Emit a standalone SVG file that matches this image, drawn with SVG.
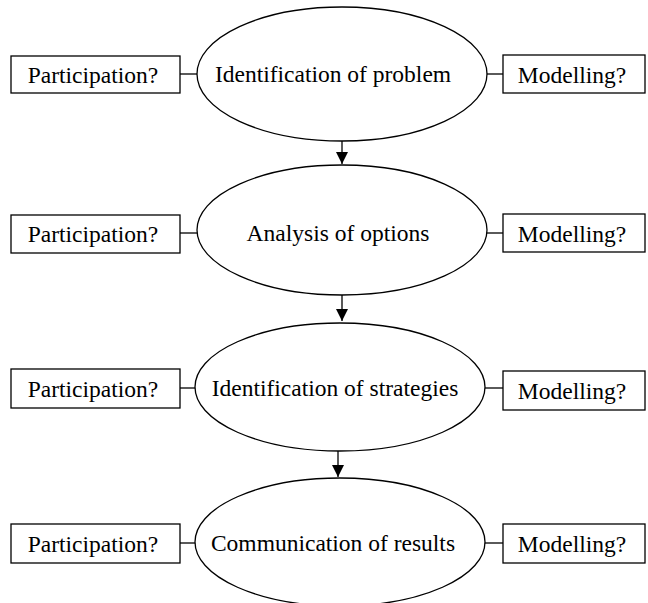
<svg xmlns="http://www.w3.org/2000/svg" width="648" height="603" viewBox="0 0 648 603">
<defs>
<style>
.box{fill:#fff;stroke:#000;stroke-width:1.3}
.ell{fill:#fff;stroke:#000;stroke-width:1.3}
.ln{stroke:#000;stroke-width:1.3;fill:none}
text{font-family:"Liberation Serif","Times New Roman",serif;font-size:23.5px;fill:#000;text-anchor:middle;dominant-baseline:central}
</style>
<marker id="ah" viewBox="0 0 12 12" refX="12" refY="6" markerWidth="12" markerHeight="12" markerUnits="userSpaceOnUse" orient="auto">
<path d="M0,0 L12,6 L0,12 Z" fill="#000"/>
</marker>
</defs>
<rect width="648" height="603" fill="#fff"/>
<g id="connectors">
<line class="ln" x1="180" y1="74" x2="197" y2="74"/>
<line class="ln" x1="486" y1="74" x2="503" y2="74"/>
<line class="ln" x1="342" y1="140" x2="342" y2="164" marker-end="url(#ah)"/>
<line class="ln" x1="180" y1="233" x2="197" y2="233"/>
<line class="ln" x1="486" y1="233" x2="503" y2="233"/>
<line class="ln" x1="342" y1="294" x2="342" y2="321" marker-end="url(#ah)"/>
<line class="ln" x1="180" y1="388" x2="197" y2="388"/>
<line class="ln" x1="485" y1="388" x2="503" y2="388"/>
<line class="ln" x1="338" y1="451" x2="338" y2="477" marker-end="url(#ah)"/>
<line class="ln" x1="180" y1="543" x2="197" y2="543"/>
<line class="ln" x1="484" y1="543" x2="503" y2="543"/>
</g>
<g id="n1"><ellipse class="ell" cx="342" cy="74" rx="145" ry="67"/><text x="333" y="74">Identification of problem</text></g>
<g id="p1"><rect class="box" x="11" y="56" width="169" height="37"/><text x="93" y="75">Participation?</text></g>
<g id="m1"><rect class="box" x="503" y="55" width="142" height="38"/><text x="572" y="75">Modelling?</text></g>
<g id="n2"><ellipse class="ell" cx="342" cy="230" rx="145" ry="65"/><text x="338" y="233">Analysis of options</text></g>
<g id="p2"><rect class="box" x="11" y="215" width="169" height="38"/><text x="93" y="234">Participation?</text></g>
<g id="m2"><rect class="box" x="503" y="214" width="142" height="38"/><text x="572" y="234">Modelling?</text></g>
<g id="n3"><ellipse class="ell" cx="340" cy="387" rx="145" ry="64"/><text x="335" y="388">Identification of strategies</text></g>
<g id="p3"><rect class="box" x="11" y="369" width="169" height="39"/><text x="93" y="389">Participation?</text></g>
<g id="m3"><rect class="box" x="503" y="371" width="142" height="39"/><text x="572" y="391">Modelling?</text></g>
<g id="n4"><ellipse class="ell" cx="340" cy="542" rx="145" ry="64"/><text x="333" y="543">Communication of results</text></g>
<g id="p4"><rect class="box" x="11" y="524" width="169" height="39"/><text x="93" y="544">Participation?</text></g>
<g id="m4"><rect class="box" x="503" y="524" width="142" height="39"/><text x="572" y="544">Modelling?</text></g>
</svg>
